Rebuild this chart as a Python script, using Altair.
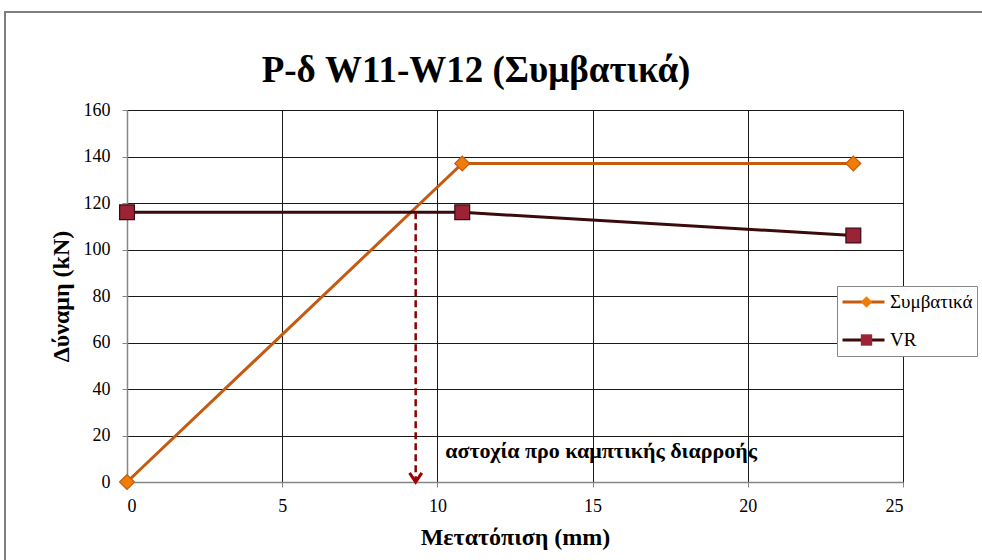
import altair as alt
import pandas as pd

# Displacement (mm) and force (kN) for the two curves
disp = [0, 10.8, 23.4]
force_conv = [0, 137, 137]
force_vr = [116, 116, 106]
series_names = ["Συμβατικά", "VR"]
marker_keys = ["m1", "m2"]
edge_keys = ["e1", "e2"]

line_colors = ["#C55A11", "#3B0A0A"]
marker_fill = ["#F07D0A", "#9B2335"]
marker_edge = ["#C85A08", "#3A0A10"]
marker_shapes = ["diamond", "square"]

# Failure marker: drop from the VR plateau down to zero force
fail_x = 9.3
fail_top = 116
fail_bottom = 0
note = "αστοχία προ καμπτικής διαρροής"
note_x = 10.25
note_y = 13.3

x_ticks = [0, 5, 10, 15, 20, 25]
y_ticks = [0, 20, 40, 60, 80, 100, 120, 140, 160]

SERIF = "Liberation Serif, Times New Roman, serif"

rows = []
for name, mk, ek, ys in zip(series_names, marker_keys, edge_keys, [force_conv, force_vr]):
    for x, y in zip(disp, ys):
        rows.append({"d": x, "P": y, "series": name, "marker": mk, "edge": ek})
df = pd.DataFrame(rows)

fail_df = pd.DataFrame({"d": [fail_x], "top": [fail_top], "bottom": [fail_bottom]})
note_df = pd.DataFrame({"d": [note_x], "P": [note_y], "t": [note]})

xs = alt.Scale(domain=[0, 25], nice=False)
ys = alt.Scale(domain=[0, 160], nice=False)

x_axis = alt.Axis(values=x_ticks, title="Μετατόπιση (mm)", format="d",
                  labelPadding=10, titlePadding=10)
y_axis = alt.Axis(values=y_ticks, title="Δύναμη (kN)", format="d",
                  labelPadding=12, titlePadding=10)

# Outer frame around the whole chart area
frame = alt.Chart(pd.DataFrame({"k": [0]})).mark_rect(
    fill=None, stroke="#7F7F7F", strokeWidth=2, clip=False
).encode(
    x=alt.value(-122), x2=alt.value(900),
    y=alt.value(-98), y2=alt.value(500),
)

LEG_X, LEG_Y = 710, 176
LEG_PAD, LEG_ROW_H, LEG_ROW_GAP = 4, 24, 14

# Line legend (stroke swatches with labels)
lines = alt.Chart(df).mark_line(strokeWidth=3).encode(
    x=alt.X("d:Q", scale=xs, axis=x_axis),
    y=alt.Y("P:Q", scale=ys, axis=y_axis),
    color=alt.Color(
        "series:N",
        scale=alt.Scale(domain=series_names, range=line_colors),
        legend=alt.Legend(
            title=None, orient="none", legendX=LEG_X, legendY=LEG_Y,
            symbolType="stroke", symbolSize=1764, symbolStrokeWidth=3,
            labelFont=SERIF, labelFontSize=19, labelColor="#000000",
            labelOffset=4, rowPadding=LEG_ROW_GAP, clipHeight=LEG_ROW_H,
            padding=LEG_PAD, fillColor="#FFFFFF", strokeColor="#888888",
        ),
    ),
    detail="series:N",
)

# Marker legend drawn over the line swatches, without labels
points = alt.Chart(df).mark_point(filled=True, size=220, strokeWidth=1.2, opacity=1).encode(
    x=alt.X("d:Q", scale=xs),
    y=alt.Y("P:Q", scale=ys),
    fill=alt.Fill(
        "marker:N",
        scale=alt.Scale(domain=marker_keys, range=marker_fill),
        legend=alt.Legend(
            title=None, orient="none", legendX=LEG_X + 16, legendY=LEG_Y,
            symbolSize=130, symbolStrokeWidth=1, symbolStrokeColor="#5A1010",
            labelExpr="''", labelFontSize=19, labelFont=SERIF,
            rowPadding=LEG_ROW_GAP, clipHeight=LEG_ROW_H, padding=LEG_PAD,
        ),
    ),
    shape=alt.Shape("marker:N", scale=alt.Scale(domain=marker_keys, range=marker_shapes)),
    stroke=alt.Stroke("edge:N", scale=alt.Scale(domain=edge_keys, range=marker_edge), legend=None),
)

drop = alt.Chart(fail_df).mark_rule(color="#8B0000", strokeWidth=2.5, strokeDash=[7, 4]).encode(
    x="d:Q", y="top:Q", y2="bottom:Q"
)

arrow_head = alt.Chart(fail_df).mark_point(
    shape="M-1,-1.5L0,0L1,-1.5", filled=False, stroke="#A00000",
    strokeWidth=3, size=150, opacity=1
).encode(x="d:Q", y="bottom:Q")

label = alt.Chart(note_df).mark_text(
    align="left", baseline="middle", font=SERIF, fontSize=22,
    fontWeight="bold", color="#000000"
).encode(x="d:Q", y="P:Q", text="t:N")

chart = alt.layer(frame, lines, drop, arrow_head, points, label).properties(
    width=776, height=372,
    padding={"left": 127, "top": 110, "right": 79, "bottom": 78},
    autosize=alt.AutoSizeParams(type="none"),
    title=alt.Title(
        "P-δ W11-W12 (Συμβατικά)", font=SERIF, fontSize=37, fontWeight="bold",
        color="#000000", anchor="middle", dx=-39, offset=-108, baseline="alphabetic",
    ),
    background="#FFFFFF",
).configure_view(stroke=None).configure_axis(
    labelFont=SERIF, labelFontSize=18, labelColor="#000000",
    titleFont=SERIF, titleFontSize=24, titleFontWeight="bold", titleColor="#000000",
    gridColor="#1A1A1A", gridWidth=1, gridOpacity=1,
    domainColor="#868686", domainWidth=1.5,
    tickColor="#868686", tickSize=5,
)

chart.save("out.html", embed_options={"renderer": "svg", "actions": False})
